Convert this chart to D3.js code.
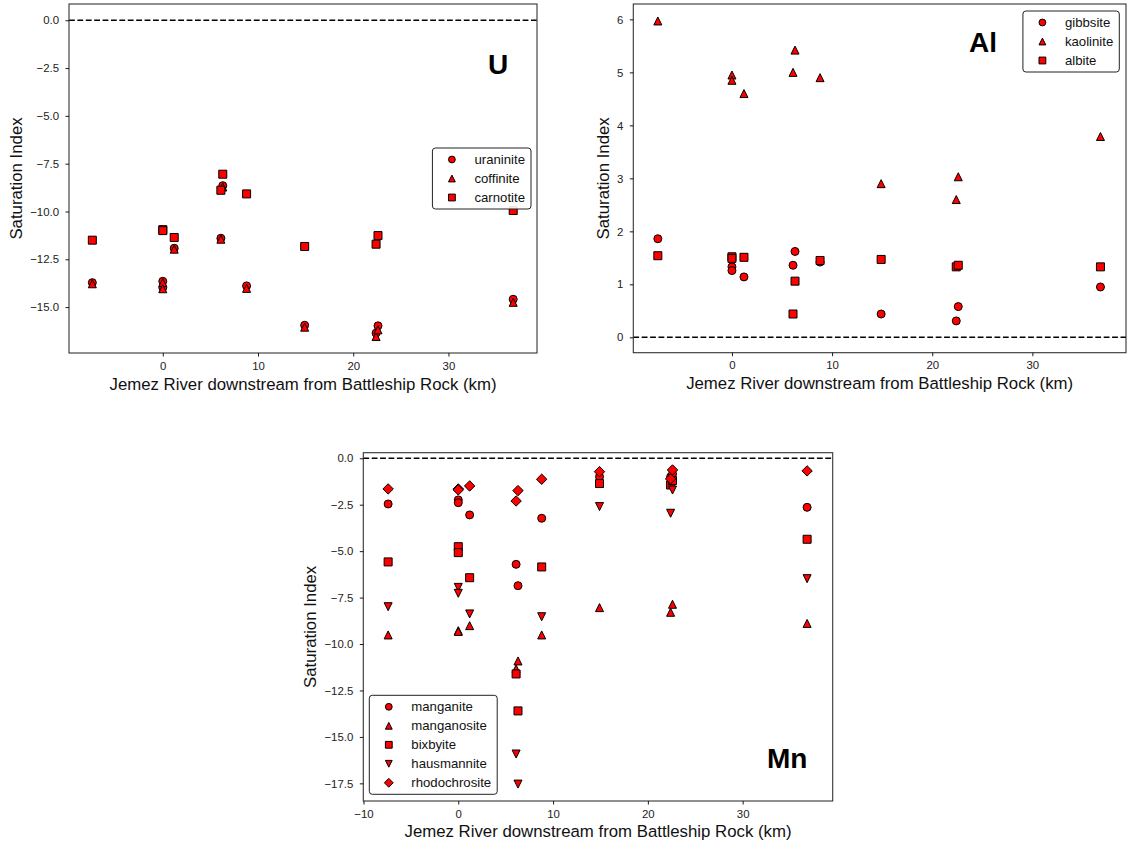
<!DOCTYPE html>
<html>
<head>
<meta charset="utf-8">
<script src="https://cdn.jsdelivr.net/npm/d3@7"></script>
<style>
  body { margin: 0; background: #fff; }
  svg { font-family: "Liberation Sans", Arial, sans-serif; }
</style>
</head>
<body>
<script>
// sampling sites along the river (km downstream of Battleship Rock)
const sites = [-7.4, 0, 0, 1.2, 6.1, 6.3, 8.8, 14.9, 22.4, 22.6, 36.8];

// U minerals
const uraninite = [-13.72, -13.65, -13.98, -11.92, -11.40, -8.65, -13.89, -15.95, -16.36, -15.98, -14.59];
const coffinite = [-13.78, -13.72, -14.04, -11.97, -11.45, -8.72, -14.02, -16.05, -16.54, -16.19, -14.75];
const carnotite = [-11.50, -10.95, -11.00, -11.36, -8.89, -8.05, -9.08, -11.83, -11.71, -11.26, -9.95];

// Al minerals
const gibbsite = [1.86, 1.33, 1.26, 1.14, 1.36, 1.62, 1.42, 0.44, 0.31, 0.58, 0.95];
const kaolinite = [5.97, 4.95, 4.85, 4.60, 5.00, 5.42, 4.90, 2.90, 2.60, 3.03, 3.79];
const albite = [1.54, 1.52, 1.49, 1.51, 0.44, 1.06, 1.45, 1.47, 1.33, 1.36, 1.33];

// Mn minerals
const manganite = [-2.46, -2.24, -2.39, -3.05, -5.71, -6.86, -3.23, -0.99, -1.00, -0.85, -2.64];
const manganosite = [-9.51, -9.28, -9.32, -9.01, -11.34, -10.91, -9.51, -8.04, -8.29, -7.86, -8.89];
const bixbyite = [-5.58, -4.76, -5.08, -6.43, -11.61, -13.60, -5.85, -1.36, -1.44, -1.20, -4.36];
const hausmannite = [-7.99, -6.95, -7.27, -8.38, -15.92, -17.54, -8.53, -2.60, -2.96, -1.71, -6.48];
const rhodochrosite = [-1.65, -1.65, -1.70, -1.49, -2.30, -1.74, -1.13, -0.72, -1.11, -0.63, -0.68];

// tick labels
const xTicks = [0, 10, 20, 30];
const mnXTicks = [-10, 0, 10, 20, 30];
const uYTicks = [0, -2.5, -5, -7.5, -10, -12.5, -15];
const alYTicks = [0, 1, 2, 3, 4, 5, 6];
const mnYTicks = [0, -2.5, -5, -7.5, -10, -12.5, -15, -17.5];

const xTitle = "Jemez River downstream from Battleship Rock (km)";
const yTitle = "Saturation Index";

const W = 1133, H = 843;
const ms = 8;

const svg = d3.select("body").append("svg")
    .attr("width", W)
    .attr("height", H);

function markerPath(kind, size) {
    const h = size / 2;
    if (kind == "o") return `M${h},0A${h},${h} 0 1,1 ${-h},0A${h},${h} 0 1,1 ${h},0Z`;
    if (kind == "s") return `M${-h},${-h}H${h}V${h}H${-h}Z`;
    if (kind == "^") return `M0,${-h}L${h},${h}L${-h},${h}Z`;
    if (kind == "v") return `M0,${h}L${h},${-h}L${-h},${-h}Z`;
    const d = h * 1.3;
    return `M0,${-d}L${d},0L0,${d}L${-d},0Z`;
}

function drawPanel(p) {
    const g = svg.append("g").attr("transform", `translate(${p.left},${p.top})`);

    const x = d3.scaleLinear().domain(p.xDomain).range([0, p.width]);
    const y = d3.scaleLinear().domain(p.yDomain).range([p.height, 0]);

    // zero line
    g.append("line")
        .attr("x1", 0).attr("x2", p.width)
        .attr("y1", y(0)).attr("y2", y(0))
        .attr("stroke", "#000")
        .attr("stroke-width", 1.5)
        .attr("stroke-dasharray", "5.8,2.6");

    // points
    p.series.forEach((s) => {
        g.append("g")
            .selectAll("path")
            .data(s.values)
            .enter()
            .append("path")
            .attr("d", markerPath(s.marker, ms))
            .attr("transform", (d, i) => `translate(${x(sites[i])},${y(d)})`)
            .attr("fill", "#ff0000")
            .attr("stroke", "#000")
            .attr("stroke-width", 1);
    });

    // frame
    g.append("rect")
        .attr("width", p.width)
        .attr("height", p.height)
        .attr("fill", "none")
        .attr("stroke", "#333")
        .attr("stroke-width", 1.1);

    const xAxis = g.append("g")
        .attr("transform", `translate(0,${p.height})`)
        .call(d3.axisBottom(x).tickValues(p.xTicks).tickSize(3.5).tickPadding(5).tickFormat(d3.format("d")));

    const yAxis = g.append("g")
        .call(d3.axisLeft(y).tickValues(p.yTicks).tickSize(3.5).tickPadding(6.5).tickFormat(d3.format(p.yFormat)));

    [xAxis, yAxis].forEach((a) => {
        a.select(".domain").remove();
        a.selectAll("line").attr("stroke", "#000").attr("stroke-width", 0.9);
        a.selectAll("text")
            .attr("fill", "#222")
            .style("font-size", "11.4px")
            .style("font-family", "'Liberation Sans', Arial, sans-serif");
    });

    // axis titles
    g.append("text")
        .attr("x", p.width / 2)
        .attr("y", p.height + 36.5)
        .attr("text-anchor", "middle")
        .attr("fill", "#111")
        .style("font-size", "16.8px")
        .text(xTitle);

    const tickBox = yAxis.node().getBBox();
    g.append("text")
        .attr("transform", `translate(${tickBox.x - 13.5},${p.height / 2}) rotate(-90)`)
        .attr("text-anchor", "middle")
        .attr("dominant-baseline", "central")
        .attr("fill", "#111")
        .style("font-size", "16.8px")
        .text(yTitle);

    // element label
    g.append("text")
        .attr("x", p.width * p.labelAt[0])
        .attr("y", p.height * p.labelAt[1])
        .attr("text-anchor", "middle")
        .attr("fill", "#000")
        .style("font-size", "28px")
        .style("font-weight", "bold")
        .text(p.label);

    // legend
    const rowH = 19;
    const lh = (p.series.length - 1) * rowH + 23;
    const leg = g.append("g");
    const box = leg.append("rect")
        .attr("rx", 3).attr("ry", 3)
        .attr("fill", "#fff")
        .attr("fill-opacity", 0.9)
        .attr("stroke", "#222")
        .attr("stroke-width", 1);
    let maxW = 0;
    p.series.forEach((s, i) => {
        const cy = 11.5 + i * rowH;
        leg.append("path")
            .attr("d", markerPath(s.marker, ms * 0.85))
            .attr("transform", `translate(19.5,${cy})`)
            .attr("fill", "#ff0000")
            .attr("stroke", "#000")
            .attr("stroke-width", 1);
        const t = leg.append("text")
            .attr("x", 42)
            .attr("y", cy)
            .attr("dominant-baseline", "central")
            .attr("fill", "#111")
            .style("font-size", "13.2px")
            .text(s.name);
        maxW = Math.max(maxW, t.node().getComputedTextLength());
    });
    const lw = 42 + maxW + 6;
    box.attr("width", lw).attr("height", lh);

    let lx, ly;
    if (p.legendLoc == "center right") {
        lx = p.width - 6 - lw;
        ly = p.height / 2 - lh / 2;
    } else if (p.legendLoc == "upper right") {
        lx = p.width - 6.7 - lw;
        ly = 7;
    } else {
        lx = 6;
        ly = p.height - 6.7 - lh;
    }
    leg.attr("transform", `translate(${lx},${ly})`);
}

drawPanel({
    left: 69, top: 4, width: 468, height: 349,
    xDomain: [-9.85, 39.3], yDomain: [-17.4, 0.85],
    xTicks: xTicks, yTicks: uYTicks, yFormat: ".1f",
    label: "U", labelAt: [0.917, 0.2],
    legendLoc: "center right",
    series: [
        { name: "uraninite", marker: "o", values: uraninite },
        { name: "coffinite", marker: "^", values: coffinite },
        { name: "carnotite", marker: "s", values: carnotite }
    ]
});

drawPanel({
    left: 633.3, top: 4, width: 492.7, height: 348.7,
    xDomain: [-9.85, 39.35], yDomain: [-0.29, 6.29],
    xTicks: xTicks, yTicks: alYTicks, yFormat: "d",
    label: "Al", labelAt: [0.71, 0.137],
    legendLoc: "upper right",
    series: [
        { name: "gibbsite", marker: "o", values: gibbsite },
        { name: "kaolinite", marker: "^", values: kaolinite },
        { name: "albite", marker: "s", values: albite }
    ]
});

drawPanel({
    left: 363.3, top: 452.7, width: 469.4, height: 348.3,
    xDomain: [-10.02, 39.5], yDomain: [-18.45, 0.3],
    xTicks: mnXTicks, yTicks: mnYTicks, yFormat: ".1f",
    label: "Mn", labelAt: [0.903, 0.904],
    legendLoc: "lower left",
    series: [
        { name: "manganite", marker: "o", values: manganite },
        { name: "manganosite", marker: "^", values: manganosite },
        { name: "bixbyite", marker: "s", values: bixbyite },
        { name: "hausmannite", marker: "v", values: hausmannite },
        { name: "rhodochrosite", marker: "D", values: rhodochrosite }
    ]
});
</script>
</body>
</html>
